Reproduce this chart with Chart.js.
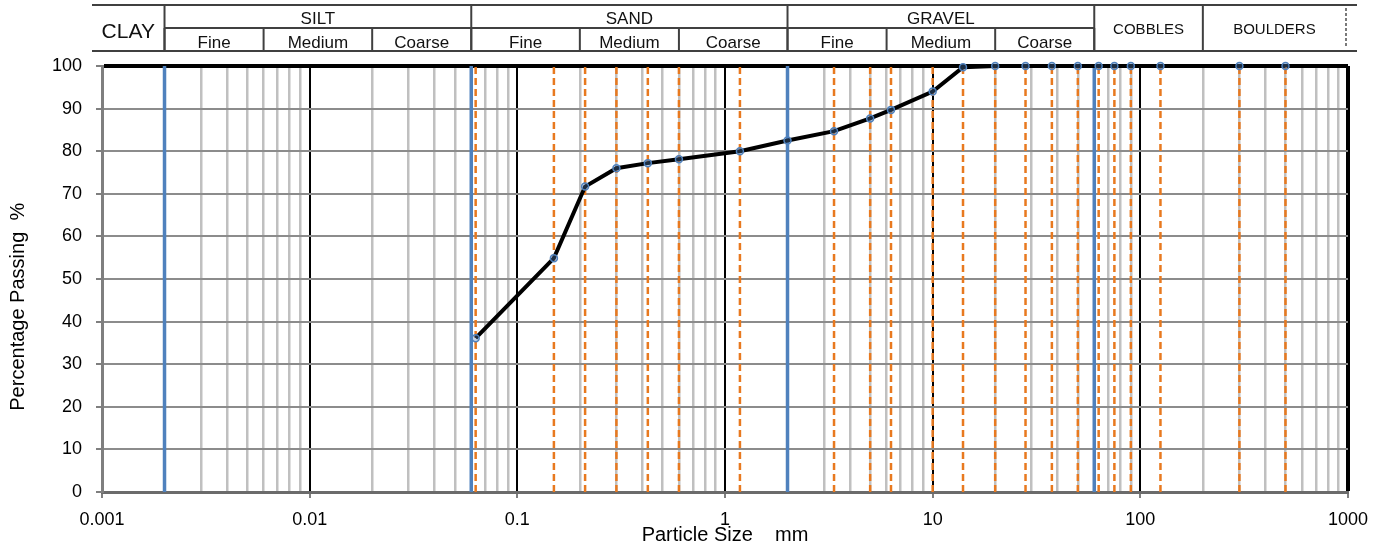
<!DOCTYPE html>
<html>
<head>
<meta charset="utf-8">
<script src="https://cdn.jsdelivr.net/npm/chart.js@4.4.1/dist/chart.umd.min.js"></script>
<style>
  html, body { margin: 0; padding: 0; background: #fff; }
</style>
</head>
<body>
<canvas id="psd" width="1385" height="547"></canvas>
<script>
// sieve sizes (mm) and % passing
const sieveSizes = [0.063, 0.15, 0.212, 0.3, 0.425, 0.6, 1.18, 2, 3.35, 5, 6.3, 10, 14, 20, 28, 37.5, 50, 63, 75, 90, 125, 300, 500];
const percentPassing = [36.1, 54.9, 71.7, 76.0, 77.2, 78.1, 80.0, 82.5, 84.7, 87.7, 89.7, 94.0, 99.7, 100, 100, 100, 100, 100, 100, 100, 100, 100, 100];

// clay/silt/sand/gravel boundaries (blue lines)
const zoneBounds = [0.002, 0.06, 2, 60];

// axis ticks
const decades = [0.001, 0.01, 0.1, 1, 10, 100, 1000];
const decadeLabels = ['0.001', '0.01', '0.1', '1', '10', '100', '1000'];
const minorSteps = [2, 3, 4, 5, 6, 7, 8, 9];
const yTicks = [0, 10, 20, 30, 40, 50, 60, 70, 80, 90, 100];

// header table
const soilClasses = ['CLAY', 'SILT', 'SAND', 'GRAVEL', 'COBBLES', 'BOULDERS'];
const classEdges = [0.002, 0.06, 2, 60, 200];
const subClasses = ['Fine', 'Medium', 'Coarse'];
const subEdges = [0.002, 0.006, 0.02, 0.06, 0.2, 0.6, 2, 6, 20, 60];

const FONT = '"Liberation Sans", Arial, sans-serif';

// grid positions: every 1..9 x decade
const xGrid = [];
decades.forEach((d, i) => {
  xGrid.push(d);
  if (i < decades.length - 1) minorSteps.forEach(m => xGrid.push(+(m * d).toPrecision(6)));
});

function decadeIndex(v) {
  return decades.findIndex(d => Math.abs(v / d - 1) < 1e-6);
}

const sieveLines = sieveSizes.map(d => ({
  data: [{x: d, y: 0}, {x: d, y: 100}],
  showLine: true,
  borderColor: '#E8791F',
  borderWidth: 2.5,
  borderDash: [7, 4],
  pointRadius: 0,
  order: 3
}));

const zoneLines = zoneBounds.map(d => ({
  data: [{x: d, y: 0}, {x: d, y: 100}],
  showLine: true,
  borderColor: '#4F81BD',
  borderWidth: 3.5,
  pointRadius: 0,
  order: 2
}));

const curve = {
  data: sieveSizes.map((d, i) => ({x: d, y: percentPassing[i]})),
  showLine: true,
  borderColor: '#000',
  borderWidth: 4,
  pointRadius: 3.5,
  pointBorderWidth: 1.5,
  pointBorderColor: '#4F81BD',
  pointBackgroundColor: 'rgba(79,129,189,0.35)',
  clip: false,
  order: 1
};

function hline(ctx, x1, y1, x2, y2) {
  ctx.beginPath();
  ctx.moveTo(x1, y1);
  ctx.lineTo(x2, y2);
  ctx.stroke();
}

function label(ctx, text, x, y, size) {
  ctx.font = size + 'px ' + FONT;
  ctx.fillText(text, x, y);
}

const headerPlugin = {
  id: 'soilHeader',
  afterDraw(chart) {
    const {ctx, chartArea: a, scales: {x}} = chart;
    const X = v => x.getPixelForValue(v);
    const left = a.left - 10, right = a.right + 9, end = a.right - 2;
    const yTop = 5, yMid = 28, yBot = 51;

    ctx.save();
    ctx.strokeStyle = '#404040';
    ctx.lineWidth = 2;
    hline(ctx, left, yTop, right, yTop);
    hline(ctx, left, yBot, right, yBot);
    hline(ctx, X(subEdges[0]), yMid, X(subEdges[subEdges.length - 1]), yMid);
    classEdges.forEach(v => hline(ctx, X(v), yTop, X(v), yBot));
    subEdges.forEach(v => hline(ctx, X(v), yMid, X(v), yBot));

    ctx.setLineDash([3, 2]);
    ctx.lineWidth = 1.2;
    ctx.strokeStyle = '#222';
    hline(ctx, end, yTop + 3, end, yBot - 3);
    ctx.setLineDash([]);

    ctx.fillStyle = '#111';
    ctx.textAlign = 'center';
    ctx.textBaseline = 'middle';
    label(ctx, soilClasses[0], (left + X(classEdges[0])) / 2, 32, 21);
    for (let i = 1; i <= 3; i++) {
      label(ctx, soilClasses[i], (X(classEdges[i - 1]) + X(classEdges[i])) / 2, 19, 17);
    }
    label(ctx, soilClasses[4], (X(classEdges[3]) + X(classEdges[4])) / 2, 30, 15);
    label(ctx, soilClasses[5], (X(classEdges[4]) + end) / 2, 30, 15);
    for (let i = 0; i < subEdges.length - 1; i++) {
      label(ctx, subClasses[i % 3], (X(subEdges[i]) + X(subEdges[i + 1])) / 2, 43, 17);
    }
    ctx.restore();
  }
};

new Chart(document.getElementById('psd'), {
  type: 'scatter',
  data: { datasets: [curve, ...zoneLines, ...sieveLines] },
  options: {
    responsive: false,
    animation: false,
    devicePixelRatio: 1,
    layout: { padding: { top: 66, right: 37, left: 0, bottom: 0 } },
    plugins: { legend: { display: false }, tooltip: { enabled: false } },
    scales: {
      x: {
        type: 'logarithmic',
        min: 0.001,
        max: 1000,
        afterBuildTicks: s => { s.ticks = xGrid.map(v => ({value: v})); },
        afterFit: s => { s.height = 55; },
        ticks: {
          autoSkip: false,
          maxRotation: 0,
          padding: 11,
          color: '#000',
          font: { family: FONT, size: 18 },
          callback: v => {
            const i = decadeIndex(v);
            return i >= 0 ? decadeLabels[i] : '';
          }
        },
        grid: {
          tickLength: 6,
          color: c => {
            const v = c.tick.value, i = decadeIndex(v);
            if (i === 0) return '#7f7f7f';
            return i >= 0 ? '#000' : '#c0c0c0';
          },
          lineWidth: c => {
            const i = decadeIndex(c.tick.value);
            if (i === decades.length - 1) return 4;
            return i >= 0 ? 2 : 2.5;
          },
          tickColor: c => decadeIndex(c.tick.value) >= 0 ? '#7f7f7f' : 'rgba(0,0,0,0)',
          tickWidth: 2
        },
        border: { color: '#6b6b6b', width: 3 },
        title: {
          display: true,
          text: 'Particle Size    mm',
          color: '#000',
          font: { family: FONT, size: 20 },
          padding: { top: 0, bottom: 0 }
        }
      },
      y: {
        min: 0,
        max: 100,
        afterBuildTicks: s => { s.ticks = yTicks.map(v => ({value: v})); },
        afterFit: s => { s.width = 102; },
        ticks: {
          padding: 14,
          color: '#000',
          font: { family: FONT, size: 18 }
        },
        grid: {
          tickLength: 6,
          color: c => c.tick.value === 100 ? '#000' : '#8c8c8c',
          lineWidth: c => c.tick.value === 100 ? 4 : 2,
          tickColor: '#7f7f7f',
          tickWidth: 2
        },
        border: { color: '#7f7f7f', width: 3 },
        title: {
          display: true,
          text: 'Percentage Passing  %          ',
          color: '#000',
          font: { family: FONT, size: 20 },
          padding: { top: 6, bottom: 0 }
        }
      }
    }
  },
  plugins: [headerPlugin]
});
</script>
</body>
</html>
